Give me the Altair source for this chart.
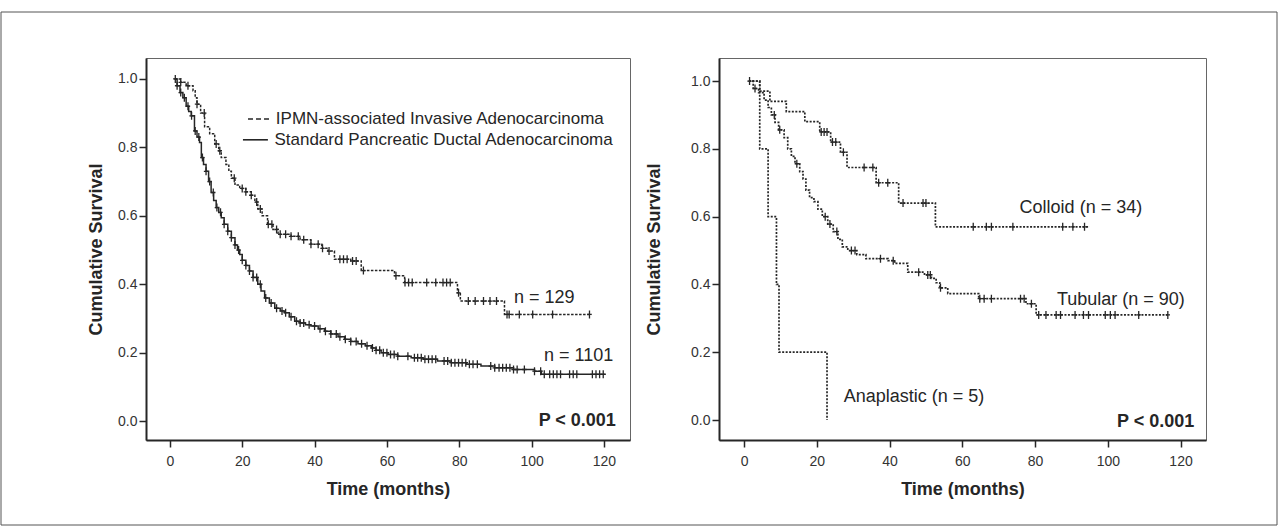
import altair as alt
import pandas as pd

FONT = "Liberation Sans"
INK = "#262626"

# ---------------- Left panel: IPMN vs standard PDAC ----------------
ipmn_t = [1.3, 3.0, 4.5, 6.4, 7.0, 7.5, 8.5, 9.6, 11.0, 12.4, 13.5, 14.2, 15.5, 16.3, 17.0, 18.0,
          19.3, 21.0, 22.5, 23.5, 24.3, 25.5, 27.0, 28.5, 29.9, 33.5, 36.0, 39.0, 42.0, 43.7, 45.5,
          50.0, 52.9, 62.1, 64.9, 79.5, 80.3, 92.5, 116.5]
ipmn_s = [1.0, 0.99, 0.98, 0.965, 0.945, 0.926, 0.90, 0.86, 0.84, 0.81, 0.79, 0.77, 0.75, 0.73, 0.71,
          0.69, 0.68, 0.67, 0.66, 0.64, 0.62, 0.60, 0.575, 0.56, 0.546, 0.54, 0.53, 0.517, 0.505, 0.497,
          0.473, 0.468, 0.44, 0.425, 0.405, 0.375, 0.351, 0.312, 0.312]
ipmn_cens = [1.5, 3.0, 5.0, 7.5, 9.5, 12.8, 13.8, 17.8, 20.0, 21.0, 22.5, 24.0, 25.0, 27.2, 28.2, 29.5,
             30.5, 32.0, 33.5, 35.5, 37.0, 39.0, 41.0, 42.2, 44.0, 47.0, 48.0, 49.0, 50.5, 51.5, 53.5,
             62.5, 65.0, 66.0, 67.0, 71.0, 73.5, 75.5, 76.5, 77.5, 79.8, 82.5, 84.4, 86.7, 88.5, 90.3,
             93.2, 93.8, 96.6, 100.3, 105.8, 116.0]

std_t = [1.3, 2.0, 2.8, 3.6, 4.5, 5.2, 5.9, 6.8, 7.5, 8.2, 8.7, 9.3, 10.0, 10.7, 11.4, 12.1, 12.8, 13.5,
         14.2, 15.0, 16.0, 17.0, 18.0, 18.7, 19.3, 20.0, 21.0, 22.0, 23.0, 24.3, 25.2, 26.2, 27.5, 29.0,
         30.5, 31.7, 33.0, 34.5, 36.0, 37.5, 39.0, 41.0, 42.8, 44.5, 46.5, 48.3, 50.0, 52.0, 54.0, 55.7,
         57.0, 58.4, 60.3, 63.0, 66.7, 70.0, 74.0, 77.8, 82.0, 86.0, 89.8, 95.0, 100.8, 102.7, 120.5]
std_s = [1.0, 0.98, 0.96, 0.945, 0.92, 0.905, 0.892, 0.848, 0.83, 0.814, 0.77, 0.75, 0.73, 0.70, 0.668,
         0.645, 0.624, 0.61, 0.594, 0.575, 0.555, 0.536, 0.515, 0.50, 0.487, 0.47, 0.455, 0.439, 0.42,
         0.40, 0.38, 0.36, 0.345, 0.33, 0.322, 0.317, 0.305, 0.292, 0.287, 0.282, 0.278, 0.27, 0.263,
         0.255, 0.247, 0.239, 0.233, 0.226, 0.22, 0.214, 0.207, 0.20, 0.195, 0.19, 0.185, 0.181, 0.176,
         0.171, 0.166, 0.161, 0.156, 0.151, 0.146, 0.137, 0.137]
std_cens = [2, 3, 4, 5, 6, 7, 8, 9, 10, 11, 12, 13, 14, 15, 16, 17, 18, 19, 20, 21, 22, 23, 24, 25, 26.5,
            28, 29.5, 31, 32, 33.5, 35, 36, 37, 38.5, 40, 41.5, 43, 44.5, 46, 47, 48.5, 50, 51.5, 53,
            54.5, 56, 57, 58, 59, 60, 61, 62, 63, 65.8, 67.6, 68.5, 69.5, 70.5, 71.5, 72.5, 73.5, 75.8,
            76.8, 77.8, 78.8, 79.8, 80.8, 81.8, 82.8, 83.8, 85, 88.7, 89.8, 91, 92, 93, 94, 95, 96, 98,
            100.8, 102.5, 103.5, 105, 106, 107, 108, 110.5, 111.5, 112.5, 116.8, 117.8, 118.8, 119.8]

left_legend_labels = ["IPMN-associated Invasive Adenocarcinoma", "Standard Pancreatic Ductal Adenocarcinoma"]
left_legend_s = [0.883, 0.822]
left_legend_x1 = [21.6, 20.2]
left_legend_x2 = [27.9, 27.1]
left_legend_tx = [29.3, 28.9]

left_ann_text = ["n = 129", "n = 1101"]
left_ann_t = [103.5, 113.0]
left_ann_s = [0.36, 0.19]

# ---------------- Right panel: histologic subtypes ----------------
col_t = [1.3, 4.3, 7.1, 11.6, 16.7, 20.8, 23.8, 26.5, 28.3, 36.3, 42.5, 52.6, 95.0]
col_s = [1.0, 0.97, 0.94, 0.91, 0.88, 0.85, 0.82, 0.79, 0.745, 0.70, 0.64, 0.57, 0.57]
col_cens = [1.5, 21.2, 22.0, 22.8, 24.3, 25.2, 27.3, 33.0, 35.4, 37.0, 39.5, 43.7, 49.2, 50.0, 63.0,
            66.6, 68.0, 73.9, 87.6, 90.4, 93.6]

tub_t = [1.3, 2.5, 4.0, 5.5, 6.6, 7.5, 8.5, 9.5, 11.0, 12.0, 13.0, 14.0, 15.3, 16.2, 17.0, 18.0, 19.2,
         20.3, 21.5, 23.0, 24.5, 25.8, 27.0, 28.5, 31.0, 33.5, 39.6, 41.4, 45.0, 49.6, 51.5, 52.8, 53.8,
         56.0, 64.5, 77.5, 80.3, 116.5]
tub_s = [1.0, 0.978, 0.966, 0.944, 0.922, 0.90, 0.878, 0.856, 0.833, 0.80, 0.778, 0.756, 0.733, 0.711,
         0.678, 0.656, 0.644, 0.622, 0.60, 0.578, 0.556, 0.533, 0.511, 0.50, 0.488, 0.476, 0.47, 0.462,
         0.436, 0.428, 0.418, 0.405, 0.39, 0.373, 0.358, 0.343, 0.31, 0.31]
tub_cens = [3.0, 8.3, 9.8, 14.5, 22.3, 23.6, 25.5, 29.5, 30.5, 37.5, 41.0, 48.0, 50.5, 51.2, 54.0, 64.8,
            66.0, 68.0, 76.0, 77.0, 79.0, 81.0, 83.0, 85.8, 87.0, 91.0, 93.3, 94.7, 99.3, 100.7, 102.0,
            108.5, 116.5]

ana_t = [1.3, 4.3, 6.6, 8.9, 9.6, 22.8]
ana_s = [1.0, 0.8, 0.6, 0.4, 0.2, 0.0]

right_ann_text = ["Colloid (n = 34)", "Tubular (n = 90)", "Anaplastic (n = 5)"]
right_ann_t = [92.6, 103.6, 46.7]
right_ann_s = [0.624, 0.353, 0.069]

p_text = "P < 0.001"

X_TICKS = [0, 20, 40, 60, 80, 100, 120]
Y_TICKS = [0.0, 0.2, 0.4, 0.6, 0.8, 1.0]


def lookup(ts, ss, tc):
    val = ss[0]
    for ti, si in zip(ts, ss):
        if ti <= tc:
            val = si
    return val


def encs(xdom, ydom, ytp):
    x = alt.X("t:Q", scale=alt.Scale(domain=xdom, nice=False, zero=False),
              axis=alt.Axis(values=X_TICKS, title="Time (months)", tickSize=7, tickWidth=1.5,
                            tickColor=INK, domainColor=INK, domainWidth=2, labelFont=FONT,
                            labelFontSize=14, labelColor="#333", labelPadding=7, titleFont=FONT,
                            titleFontSize=18, titleFontWeight="bold", titleColor=INK, titlePadding=12,
                            grid=False))
    y = alt.Y("s:Q", scale=alt.Scale(domain=ydom, nice=False, zero=False),
              axis=alt.Axis(values=Y_TICKS, format=".1f", title="Cumulative Survival", tickSize=7,
                            tickWidth=1.5, tickColor=INK, domainColor=INK, domainWidth=2,
                            labelFont=FONT, labelFontSize=14, labelColor="#333", labelPadding=2,
                            titleFont=FONT, titleFontSize=18, titleFontWeight="bold", titleColor=INK,
                            titlePadding=ytp, grid=False))
    return x, y


def curve(ts, ss, xdom, ydom, ytp, dash=None, width=1.5):
    x, y = encs(xdom, ydom, ytp)
    kw = dict(interpolate="step-after", color=INK, strokeWidth=width)
    if dash is not None:
        kw["strokeDash"] = dash
    return alt.Chart(pd.DataFrame({"t": ts, "s": ss})).mark_line(**kw).encode(x=x, y=y)


def censors(ts, ss, cens, xdom, ydom, ytp):
    x, y = encs(xdom, ydom, ytp)
    df = pd.DataFrame({"t": cens, "s": [lookup(ts, ss, c) for c in cens]})
    return alt.Chart(df).mark_point(shape="M0,-1L0,1M-0.55,0L0.55,0", size=64, filled=False,
                                    color=INK, strokeWidth=1.3, opacity=1).encode(x=x, y=y)


def texts(labels, ts, ss, xdom, ydom, ytp, size=18, weight="normal", align="center"):
    x, y = encs(xdom, ydom, ytp)
    df = pd.DataFrame({"t": ts, "s": ss, "label": labels})
    return alt.Chart(df).mark_text(font=FONT, fontSize=size, fontWeight=weight, color=INK,
                                   align=align, baseline="middle").encode(x=x, y=y, text="label:N")


LX = [-6.6, 127.2]
LY = [-0.055, 1.061]
RX = [-6.9, 127.0]
RY = [-0.059, 1.068]
LTP = 12
RTP = 27

frame = alt.Chart(pd.DataFrame({"k": [0]})).mark_rect(filled=False, stroke="#555", strokeWidth=1).encode(
    x=alt.value(-145), x2=alt.value(1131), y=alt.value(-46), y2=alt.value(467))

lx, ly = encs(LX, LY, LTP)
leg_df = pd.DataFrame({"s": left_legend_s, "t": left_legend_x1, "t2": left_legend_x2,
                       "tx": left_legend_tx, "label": left_legend_labels})
leg_dash = alt.Chart(leg_df.iloc[[0]]).mark_rule(color=INK, strokeWidth=1.6, strokeDash=[5, 3]).encode(
    x=lx, x2="t2:Q", y=ly)
leg_solid = alt.Chart(leg_df.iloc[[1]]).mark_rule(color=INK, strokeWidth=1.6).encode(
    x=lx, x2="t2:Q", y=ly)
leg_text = alt.Chart(leg_df).mark_text(font=FONT, fontSize=17, color=INK, align="left",
                                       baseline="middle").encode(
    x=alt.X("tx:Q", scale=alt.Scale(domain=LX, nice=False, zero=False)), y=ly, text="label:N")

left = alt.layer(
    frame,
    curve(std_t, std_s, LX, LY, LTP),
    censors(std_t, std_s, std_cens, LX, LY, LTP),
    curve(ipmn_t, ipmn_s, LX, LY, LTP, dash=[2.5, 1.5]),
    censors(ipmn_t, ipmn_s, ipmn_cens, LX, LY, LTP),
    leg_dash, leg_solid, leg_text,
    texts(left_ann_text, left_ann_t, left_ann_s, LX, LY, LTP),
    texts([p_text], [123.3], [0.0], LX, LY, LTP, weight="bold", align="right"),
).properties(width=484, height=382)

right = alt.layer(
    curve(col_t, col_s, RX, RY, RTP, dash=[2, 1.5], width=1.7),
    censors(col_t, col_s, col_cens, RX, RY, RTP),
    curve(tub_t, tub_s, RX, RY, RTP, dash=[2, 1.5], width=1.7),
    censors(tub_t, tub_s, tub_cens, RX, RY, RTP),
    curve(ana_t, ana_s, RX, RY, RTP, dash=[2, 1.5], width=1.7),
    texts(right_ann_text, right_ann_t, right_ann_s, RX, RY, RTP),
    texts([p_text], [123.8], [-0.005], RX, RY, RTP, weight="bold", align="right"),
).properties(width=487, height=382)

chart = alt.hconcat(left, right, spacing=89, bounds="flush").properties(
    padding={"left": 0, "top": 11, "right": 0, "bottom": 0},
    background="white",
).configure_view(stroke="#666", strokeWidth=1)

chart.save("out.html", embed_options={"renderer": "svg", "actions": False})
